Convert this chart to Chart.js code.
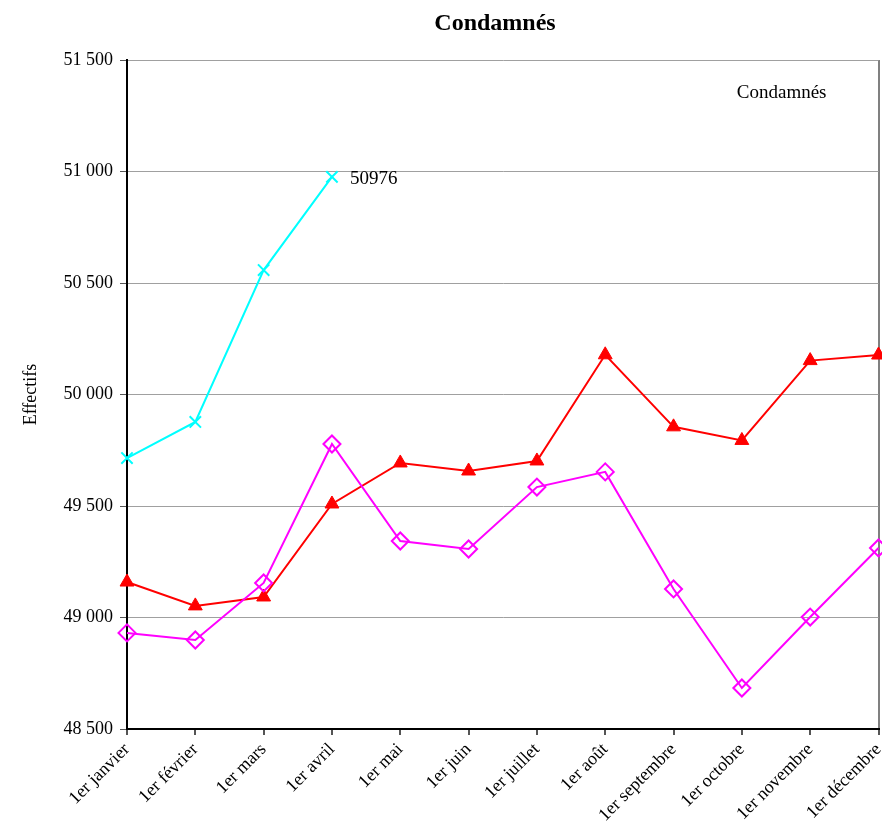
<!DOCTYPE html>
<html>
<head>
<meta charset="utf-8">
<script src="https://cdn.jsdelivr.net/npm/chart.js@4/dist/chart.umd.min.js"></script>
<style>
	html, body {margin: 0; padding: 0; background: #fff; overflow: hidden;}
	canvas {display: block;}
</style>
</head>
<body>
<!-- un peu plus large que la fenêtre : le bord droit du graphique tombe à 879 px -->
<canvas id="myChart" width="889" height="831"></canvas>
<script>
'use strict';

const months = ['1er janvier', '1er février', '1er mars', '1er avril', '1er mai', '1er juin',
	'1er juillet', '1er août', '1er septembre', '1er octobre', '1er novembre', '1er décembre'];

// condamnés, trois années
const cyanValues = [49715, 49877, 50558, 50976, null, null, null, null, null, null, null, null];
const redValues = [49159, 49052, 49092, 49509, 49693, 49657, 49702, 50178, 49855, 49794, 50152, 50177];
const magentaValues = [48931, 48899, 49155, 49778, 49343, 49307, 49585, 49653, 49128, 48684, 49002, 49312];

const yMin = 48500, yMax = 51500, yStep = 500;
const titleText = 'Condamnés';
const legendText = 'Condamnés';
const yTitle = 'Effectifs';
const lastLabel = '50976';

const serif = "'Liberation Serif', 'Times New Roman', serif";

const formatThousands = v => {
	const k = Math.floor(v / 1000);
	const r = String(v % 1000).padStart(3, '0');
	return k + ' ' + r;
}

const textPlugin = {
	id: 'texts',
	afterDatasetsDraw(chart) {
		const {ctx, chartArea, scales} = chart;
		ctx.save();
		ctx.fillStyle = '#000';

		ctx.font = 'bold 24px ' + serif;
		ctx.textAlign = 'center';
		ctx.textBaseline = 'middle';
		ctx.fillText(titleText, 495, 24);

		ctx.font = '19px ' + serif;
		ctx.textAlign = 'right';
		ctx.fillText(legendText, chartArea.right - 52, chartArea.top + 33);

		// valeur du dernier point cyan
		const idx = cyanValues.reduce((a, v, i) => v !== null ? i : a, 0);
		const px = scales.x.getPixelForValue(idx);
		const py = scales.y.getPixelForValue(cyanValues[idx]);
		ctx.textAlign = 'left';
		ctx.fillText(lastLabel, px + 18, py + 2);
		ctx.restore();
	}
};

const ctx = document.getElementById('myChart').getContext('2d');
const myChart = new Chart(ctx, {
	type: 'line',
	data: {
		labels: months,
		datasets: [
			{
				data: magentaValues,
				borderColor: '#ff00ff',
				backgroundColor: '#ffffff',
				borderWidth: 2,
				pointStyle: 'rectRot',
				pointRadius: 8.5,
				pointBorderWidth: 2,
				pointBorderColor: '#ff00ff',
				pointBackgroundColor: 'rgba(255,255,255,0)',
				clip: false,
			},
			{
				data: redValues,
				borderColor: '#ff0000',
				backgroundColor: '#ff0000',
				borderWidth: 2,
				pointStyle: 'triangle',
				pointRadius: 8,
				pointBorderWidth: 1,
				pointBackgroundColor: '#ff0000',
				clip: false,
			},
			{
				data: cyanValues,
				borderColor: '#00ffff',
				backgroundColor: '#00ffff',
				borderWidth: 2,
				pointStyle: 'crossRot',
				pointRadius: 8,
				pointBorderWidth: 2,
				spanGaps: false,
				clip: false,
			},
		],
	},
	options: {
		responsive: false,
		animation: false,
		layout: {padding: {top: 60, right: 3, left: 0, bottom: 0}},
		plugins: {
			legend: {display: false},
			title: {display: false},
			tooltip: {enabled: false},
		},
		scales: {
			x: {
				offset: false,
				border: {color: '#000', width: 2},
				grid: {
					color: c => c.index === months.length - 1 ? '#808080' : 'rgba(0,0,0,0)',
					lineWidth: 2,
					tickColor: '#555',
					tickLength: 6,
				},
				ticks: {
					minRotation: 45,
					maxRotation: 45,
					autoSkip: false,
					color: '#000',
					padding: 4,
					font: {family: serif, size: 18},
				},
				afterFit: s => {
					s.height = 102;
					s.paddingLeft = 0;
					s.paddingRight = 0;
				},
			},
			y: {
				min: yMin,
				max: yMax,
				border: {color: '#000', width: 2},
				grid: {color: '#a0a0a0', lineWidth: 1, tickColor: '#555', tickLength: 7},
				ticks: {
					stepSize: yStep,
					color: '#000',
					padding: 7,
					font: {family: serif, size: 18},
					callback: v => formatThousands(v),
				},
				title: {
					display: true,
					text: yTitle,
					color: '#000',
					font: {family: serif, size: 18},
					padding: {top: 20, bottom: 4},
				},
				afterFit: s => {
					s.width = 127;
				},
			},
		},
	},
	plugins: [textPlugin],
});
</script>
</body>
</html>
